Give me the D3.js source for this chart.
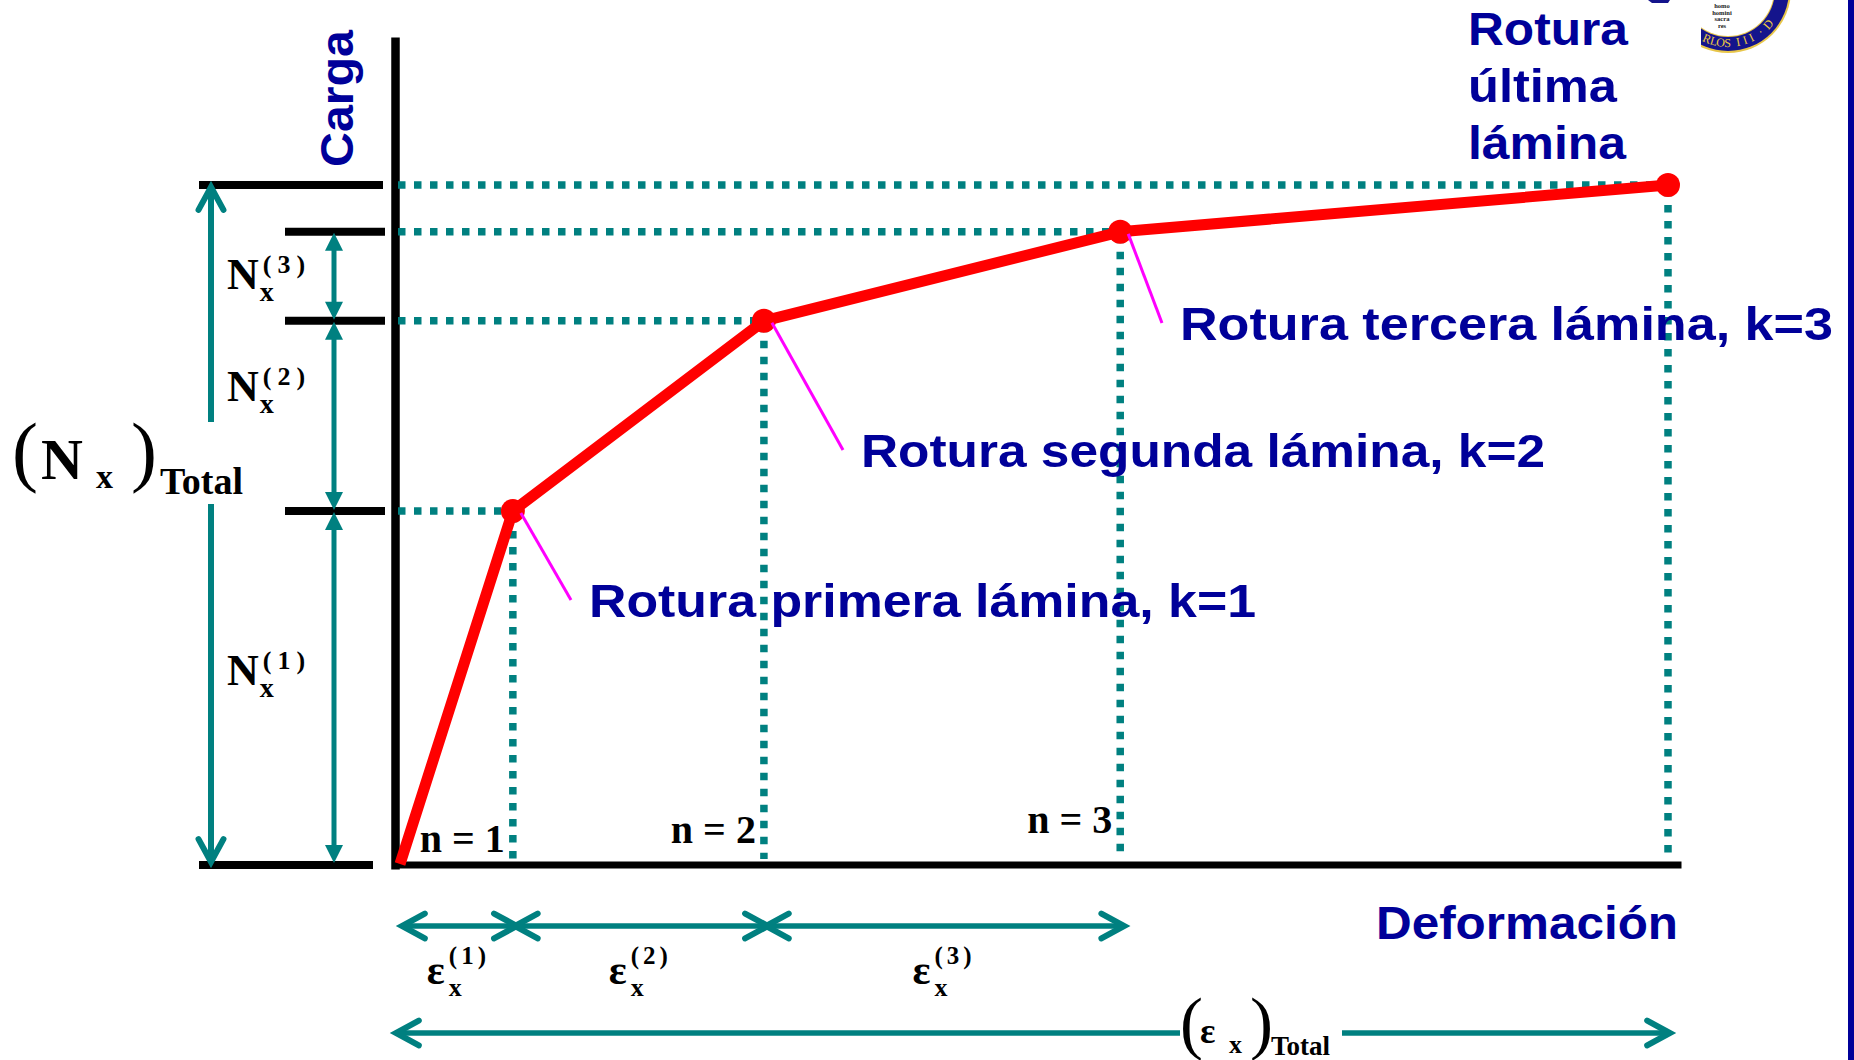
<!DOCTYPE html>
<html><head><meta charset="utf-8">
<script src="https://cdn.jsdelivr.net/npm/d3@7"></script>
<style>
html,body{margin:0;padding:0;background:#fff;}
svg{display:block;}
</style></head><body>
<svg id="chart" width="1854" height="1060"></svg>
<script>
// Curva carga–deformación de un laminado con rotura progresiva de sus láminas
const deformacion = [0, 8.9, 28.7, 56.8, 100];   // εx, % de la deformación total
const carga = [0, 52.0, 80.0, 93.1, 100];        // Nx, % de la carga total
const etiquetasRotura = ["Rotura primera lámina, k=1", "Rotura segunda lámina, k=2", "Rotura tercera lámina, k=3"];
const etiquetaUltima = ["Rotura", "última", "lámina"];
const etiquetasN = ["n = 1", "n = 2", "n = 3"];
const indicesLamina = ["1", "2", "3"];

const BLUE = "#000099", TEAL = "#008080", RED = "#ff0000", MAGENTA = "#ff00ff";
const SANS = "'Liberation Sans', Arial, sans-serif";
const SERIF = "'Liberation Serif', 'Times New Roman', serif";

const svg = d3.select("#chart");
svg.append("rect").attr("width", 1854).attr("height", 1060).attr("fill", "#fff");

const x = d3.scaleLinear().domain([0, 100]).range([400, 1668]);
const y = d3.scaleLinear().domain([0, 100]).range([864, 185]);

const pts = deformacion.map((d, i) => [x(d), y(carga[i])]);

// ---- ejes ----
const xAxisScale = d3.scaleLinear().domain([x.invert(392), x.invert(1681)]).range([392, 1681]);
const gx = svg.append("g").attr("transform", `translate(0,${y(0) + 0.5})`)
  .call(d3.axisBottom(xAxisScale).tickValues([]).tickSizeOuter(0));
gx.select(".domain").attr("stroke", "#000").attr("stroke-width", 7);

const yAxisScale = d3.scaleLinear().domain([y.invert(869), y.invert(37)]).range([869, 37]);
const gy = svg.append("g").attr("transform", `translate(395,0)`)
  .call(d3.axisLeft(yAxisScale).tickValues([]).tickSizeOuter(0));
gy.select(".domain").attr("stroke", "#000").attr("stroke-width", 8.5);

// ---- líneas de referencia punteadas ----
const dots = svg.append("g").attr("stroke", TEAL).attr("stroke-width", 7.5)
  .attr("stroke-dasharray", "7.5,8.5").attr("fill", "none");
pts.slice(1).forEach(([px, py]) => {
  dots.append("line").attr("x1", 398).attr("x2", px).attr("y1", py).attr("y2", py);
  dots.append("line").attr("x1", px).attr("x2", px).attr("y1", py + 4).attr("y2", 859);
});

// ---- marcas de nivel de carga a la izquierda ----
const marks = svg.append("g").attr("stroke", "#000").attr("stroke-width", 8);
marks.append("line").attr("x1", 199).attr("x2", 383).attr("y1", y(100)).attr("y2", y(100));
marks.append("line").attr("x1", 199).attr("x2", 373).attr("y1", y(0) + 1).attr("y2", y(0) + 1);
carga.slice(1, 4).forEach(c => {
  marks.append("line").attr("x1", 285).attr("x2", 385).attr("y1", y(c)).attr("y2", y(c));
});

// ---- flechas ----
function chevron(g, tx, ty, ang) {
  const L = 26, a = 0.5;
  const p1 = [tx - L * Math.cos(ang - a), ty - L * Math.sin(ang - a)];
  const p2 = [tx - L * Math.cos(ang + a), ty - L * Math.sin(ang + a)];
  g.append("path").attr("d", `M${p1[0]},${p1[1]}L${tx},${ty}L${p2[0]},${p2[1]}`)
    .attr("fill", "none").attr("stroke", TEAL).attr("stroke-width", 6)
    .attr("stroke-linecap", "round").attr("stroke-linejoin", "miter");
}
function tri(g, tx, ty, ang) {
  const L = 18, h = 9;
  const bx = tx - L * Math.cos(ang), by = ty - L * Math.sin(ang);
  const nx = -Math.sin(ang) * h, ny = Math.cos(ang) * h;
  g.append("path").attr("d", `M${tx},${ty}L${bx + nx},${by + ny}L${bx - nx},${by - ny}Z`).attr("fill", TEAL);
}
const arrows = svg.append("g");

// (Nx)Total: flecha vertical larga con hueco para la etiqueta
const xl = 211;
arrows.append("line").attr("x1", xl).attr("x2", xl).attr("y1", y(100) + 3).attr("y2", 422)
  .attr("stroke", TEAL).attr("stroke-width", 6);
arrows.append("line").attr("x1", xl).attr("x2", xl).attr("y1", 504).attr("y2", y(0) - 3)
  .attr("stroke", TEAL).attr("stroke-width", 6);
chevron(arrows, xl, y(100) + 2, -Math.PI / 2);
chevron(arrows, xl, y(0) - 2, Math.PI / 2);

// Nx^(k): flechas entre niveles consecutivos
const xs = 334;
for (let i = 0; i < 3; i++) {
  const y0 = y(carga[i]), y1 = y(carga[i + 1]);
  arrows.append("line").attr("x1", xs).attr("x2", xs).attr("y1", y0 - 10).attr("y2", y1 + 10)
    .attr("stroke", TEAL).attr("stroke-width", 5);
  tri(arrows, xs, y1 + 1, -Math.PI / 2);
  tri(arrows, xs, y0 - 1, Math.PI / 2);
}

// εx^(k): flechas horizontales
const ye = 926;
for (let i = 0; i < 3; i++) {
  const x0 = x(deformacion[i]) + 2, x1 = x(deformacion[i + 1]) + 4;
  arrows.append("line").attr("x1", x0 + 2).attr("x2", x1 - 2).attr("y1", ye).attr("y2", ye)
    .attr("stroke", TEAL).attr("stroke-width", 5.5);
  chevron(arrows, x0, ye, Math.PI);
  chevron(arrows, x1, ye, 0);
}

// (εx)Total
const yt = 1033;
arrows.append("line").attr("x1", x(0) - 2).attr("x2", 1180).attr("y1", yt).attr("y2", yt)
  .attr("stroke", TEAL).attr("stroke-width", 5.5);
arrows.append("line").attr("x1", 1342).attr("x2", x(100)).attr("y1", yt).attr("y2", yt)
  .attr("stroke", TEAL).attr("stroke-width", 5.5);
chevron(arrows, x(0) - 4, yt, Math.PI);
chevron(arrows, x(100) + 2, yt, 0);

// ---- curva carga–deformación ----
svg.append("path").datum(pts)
  .attr("d", d3.line())
  .attr("fill", "none").attr("stroke", RED).attr("stroke-width", 11)
  .attr("stroke-linejoin", "round");
svg.append("g").selectAll("circle").data(pts.slice(1)).join("circle")
  .attr("cx", d => d[0]).attr("cy", d => d[1]).attr("r", 12).attr("fill", RED);

// ---- etiquetas de rotura ----
const roturaPos = [{ x: 589, y: 617, w: 667 }, { x: 861, y: 467, w: 684 }, { x: 1180, y: 340, w: 653 }];
etiquetasRotura.forEach((t, i) => {
  const p = pts[i + 1], l = roturaPos[i];
  svg.append("line").attr("x1", p[0] + 8).attr("y1", p[1] + 2)
    .attr("x2", l.x - 18).attr("y2", l.y - 17)
    .attr("stroke", MAGENTA).attr("stroke-width", 3);
  svg.append("text").attr("x", l.x).attr("y", l.y).text(t)
    .attr("font-family", SANS).attr("font-weight", "bold").attr("font-size", 46)
    .attr("fill", BLUE).attr("textLength", l.w).attr("lengthAdjust", "spacingAndGlyphs");
});

const ultimaPos = [{ y: 45, w: 160 }, { y: 102, w: 149 }, { y: 159, w: 158 }];
etiquetaUltima.forEach((t, i) => {
  svg.append("text").attr("x", 1468).attr("y", ultimaPos[i].y).text(t)
    .attr("font-family", SANS).attr("font-weight", "bold").attr("font-size", 46)
    .attr("fill", BLUE).attr("textLength", ultimaPos[i].w).attr("lengthAdjust", "spacingAndGlyphs");
});

svg.append("text").attr("x", 1376).attr("y", 939).text("Deformación")
  .attr("font-family", SANS).attr("font-weight", "bold").attr("font-size", 46)
  .attr("fill", BLUE).attr("textLength", 302).attr("lengthAdjust", "spacingAndGlyphs");

svg.append("text").attr("transform", "translate(353,167) rotate(-90)").text("Carga")
  .attr("font-family", SANS).attr("font-weight", "bold").attr("font-size", 47)
  .attr("fill", BLUE).attr("textLength", 137).attr("lengthAdjust", "spacingAndGlyphs");

// ---- etiquetas n = k ----
const nBase = [852, 843, 833];
etiquetasN.forEach((t, i) => {
  svg.append("text").attr("x", x(deformacion[i + 1]) - 8).attr("y", nBase[i]).text(t)
    .attr("text-anchor", "end").attr("font-family", SERIF).attr("font-weight", "bold")
    .attr("font-size", 40).attr("fill", "#000");
});

// ---- notación con subíndices y superíndices ----
function mathLabel(g, o) {
  const b = g.append("text").attr("x", o.x).attr("y", o.y).text(o.base)
    .attr("font-family", SERIF).attr("font-weight", "bold").attr("font-size", o.baseSize);
  const bw = b.node().getComputedTextLength();
  g.append("text").attr("x", o.x + bw + o.subGap).attr("y", o.y + o.subDy).text(o.sub)
    .attr("font-family", SERIF).attr("font-weight", "bold").attr("font-size", o.subSize);
  g.append("text").attr("x", o.x + bw + o.supGap).attr("y", o.y + o.supDy).text(o.sup)
    .attr("font-family", SERIF).attr("font-weight", "bold").attr("font-size", o.supSize)
    .attr("letter-spacing", o.supSpacing);
  return g;
}

const nBaselines = [289, 401, 685];
indicesLamina.slice().reverse().forEach((k, i) => {
  mathLabel(svg.append("g"), {
    x: 227, y: nBaselines[i], base: "N", baseSize: 44,
    sub: "x", subSize: 28, subDy: 12, subGap: 1,
    sup: `(${k})`, supSize: 26, supDy: -16, supGap: 4, supSpacing: 6
  });
});

indicesLamina.forEach((k, i) => {
  const g = svg.append("g");
  mathLabel(g, {
    x: 0, y: 984, base: "ε", baseSize: 42,
    sub: "x", subSize: 26, subDy: 12, subGap: 4,
    sup: `(${k})`, supSize: 25, supDy: -20, supGap: 4, supSpacing: 4
  });
  const bb = g.node().getBBox();
  const cx = (x(deformacion[i]) + x(deformacion[i + 1])) / 2 + 2;
  g.attr("transform", `translate(${cx - bb.x - bb.width / 2},0)`);
});

// (Nx)Total
const nt = svg.append("g").attr("font-family", SERIF).attr("fill", "#000");
nt.append("text").attr("x", 12).attr("y", 477).attr("font-size", 78).text("(");
nt.append("text").attr("x", 41).attr("y", 479).attr("font-size", 58).attr("font-weight", "bold").text("N");
nt.append("text").attr("x", 96).attr("y", 488).attr("font-size", 34).attr("font-weight", "bold").text("x");
nt.append("text").attr("x", 131).attr("y", 477).attr("font-size", 78).text(")");
nt.append("text").attr("x", 160).attr("y", 494).attr("font-size", 38).attr("font-weight", "bold").text("Total");

// (εx)Total
const et = svg.append("g").attr("font-family", SERIF).attr("fill", "#000");
et.append("rect").attr("x", 1180).attr("y", 995).attr("width", 162).attr("height", 65).attr("fill", "#fff");
et.append("text").attr("x", 1180).attr("y", 1046).attr("font-size", 69).text("(");
et.append("text").attr("x", 1200).attr("y", 1043).attr("font-size", 36).attr("font-weight", "bold").text("ε");
et.append("text").attr("x", 1229).attr("y", 1053).attr("font-size", 26).attr("font-weight", "bold").text("x");
et.append("text").attr("x", 1250).attr("y", 1046).attr("font-size", 69).text(")");
et.append("text").attr("x", 1271).attr("y", 1055).attr("font-size", 27).attr("font-weight", "bold").text("Total");

// ---- sello institucional (esquina superior derecha) y borde ----
const defs = svg.append("defs");
defs.append("clipPath").attr("id", "selloClip")
  .append("rect").attr("x", 1701).attr("y", 0).attr("width", 120).attr("height", 70);
const sello = svg.append("g").attr("clip-path", "url(#selloClip)");
const scx = 1728, scy = -10;
sello.append("circle").attr("cx", scx).attr("cy", scy).attr("r", 63).attr("fill", "#e8c64a");
sello.append("circle").attr("cx", scx).attr("cy", scy).attr("r", 61).attr("fill", "#14148c");
sello.append("circle").attr("cx", scx).attr("cy", scy).attr("r", 47).attr("fill", "#e8c64a");
sello.append("circle").attr("cx", scx).attr("cy", scy).attr("r", 46).attr("fill", "#fff");

// leyenda del anillo, letra a letra sobre el arco inferior
const anillo = "RLOS III · D".split("");
let ang = 117;
anillo.forEach(ch => {
  const step = ch === " " ? 4 : 7.6;
  const th = (ang - step / 2) * Math.PI / 180;
  ang -= step;
  if (ch === " ") return;
  const px = scx + 57 * Math.cos(th), py = scy + 57 * Math.sin(th);
  sello.append("text")
    .attr("transform", `translate(${px},${py}) rotate(${th * 180 / Math.PI - 90})`)
    .attr("text-anchor", "middle").attr("font-family", SERIF).attr("font-size", 12)
    .attr("fill", "#f0cc40").text(ch);
});

const lema = sello.append("text").attr("font-family", SERIF).attr("font-size", 6.5)
  .attr("font-weight", "bold").attr("fill", "#222").attr("text-anchor", "middle");
["homo", "homini", "sacra", "res"].forEach((t, i) => {
  lema.append("tspan").attr("x", 1722).attr("y", 8 + i * 6.5).text(t);
});
svg.append("path").attr("d", "M1648,0L1670,0L1668,3L1652,3Z").attr("fill", "#14148c");

svg.append("rect").attr("x", 1848).attr("y", 0).attr("width", 6).attr("height", 1060).attr("fill", BLUE);
</script>
</body></html>
